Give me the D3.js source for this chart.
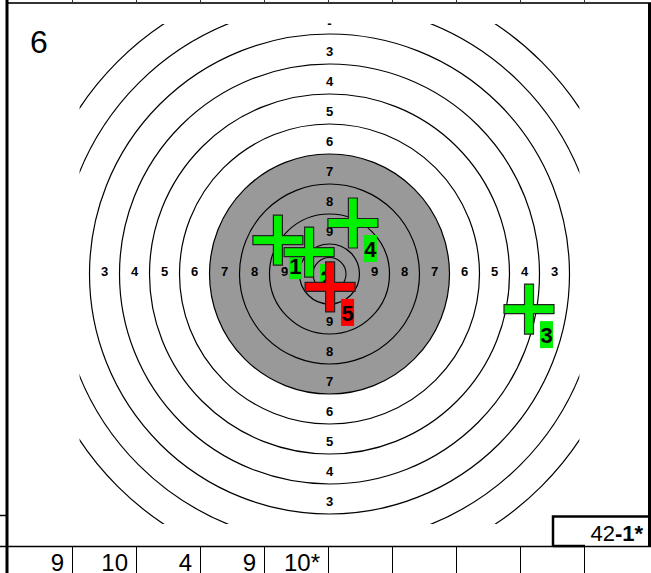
<!DOCTYPE html>
<html><head><meta charset="utf-8">
<script src="https://cdn.jsdelivr.net/npm/d3@7"></script>
<style>html,body{margin:0;padding:0;background:#fff;}svg{display:block;}</style>
</head><body>
<svg id="c" width="651" height="573"></svg>
<script>
// ---- data ----
const ringValues = [10, 9, 8, 7, 6, 5, 4, 3, 2, 1];
const ringLabelValues = [9, 8, 7, 6, 5, 4, 3];
const blackRingLimit = 7;          // rings 7..10 on grey disc
const innerTenRadius = 0.55;       // inner ten, in ring widths
const viewHalf = 8.33;             // visible square half-size, in ring widths
const shotNumbers = [1, 2, 3, 4, 5];
const shotX = [-1.72, -0.68, 6.65, 0.78, 0.02];   // ring widths, right +
const shotY = [1.13, 0.73, -1.17, 1.70, -0.43];   // ring widths, up +
const shotScores = ["9", "10", "4", "9", "10*"];
const seriesTotal = "6";
const resultText = ["42", "-1*"];
const cellCount = 10;

// ---- drawing ----
const svg = d3.select("#c");
const cx = 329.5, cy = 274, unit = 30;
const x = d3.scaleLinear().domain([-11, 11]).range([cx - 11 * unit, cx + 11 * unit]);
const y = d3.scaleLinear().domain([-11, 11]).range([cy + 11 * unit, cy - 11 * unit]);
const rOf = v => (11 - v) * unit;   // outer radius of ring v

const cellScale = d3.scaleLinear().domain([0, cellCount]).range([8, 648]);

const tg = svg.append("g");
svg.append("defs").append("clipPath").attr("id", "clip")
  .append("rect").attr("x", x(-viewHalf)).attr("y", y(viewHalf))
  .attr("width", x(viewHalf) - x(-viewHalf)).attr("height", y(-viewHalf) - y(viewHalf));
const clipG = tg.append("g").attr("clip-path", "url(#clip)");

// grey disc
clipG.append("circle").attr("cx", cx).attr("cy", cy).attr("r", rOf(blackRingLimit)).attr("fill", "#999999");

// rings
clipG.selectAll("circle.ring").data(ringValues).join("circle")
  .attr("class", "ring").attr("cx", cx).attr("cy", cy).attr("r", d => rOf(d))
  .attr("fill", "none").attr("stroke", "#000").attr("stroke-width", 1.2);
clipG.append("circle").attr("cx", cx).attr("cy", cy).attr("r", innerTenRadius * unit)
  .attr("fill", "none").attr("stroke", "#000").attr("stroke-width", 1.1);

// ring labels
const lblFont = "bold 13px 'Liberation Sans', Arial, sans-serif";
ringLabelValues.forEach(v => {
  const m = rOf(v) - unit / 2;
  [[cx - m, cy - 3], [cx + m, cy - 3], [cx, cy - m + 2], [cx, cy + m + 2]].forEach(p => {
    tg.append("text").attr("x", p[0]).attr("y", p[1]).attr("text-anchor", "middle")
      .attr("dominant-baseline", "central").style("font", lblFont).text(v);
  });
});
tg.append("text").attr("x", cx).attr("y", cy - (rOf(2) - unit / 2) + 4).attr("text-anchor", "middle")
  .attr("dominant-baseline", "central").style("font", lblFont).text("-");

// shots
const arm = 25, th = 4.5;
const crossPath = `M${-th},${-arm}H${th}V${-th}H${arm}V${th}H${th}V${arm}H${-th}V${th}H${-arm}V${-th}H${-th}Z`;
shotNumbers.forEach((n, i) => {
  const col = i === shotNumbers.length - 1 ? "#ff0000" : "#00f000";
  const g = tg.append("g").attr("transform", `translate(${x(shotX[i])},${y(shotY[i])})`);
  g.append("path").attr("d", crossPath).attr("fill", col).attr("stroke", "#222").attr("stroke-width", 1.2);
  g.append("rect").attr("x", 11).attr("y", 12).attr("width", 13).attr("height", 27).attr("fill", col);
  g.append("text").attr("x", 17.5).attr("y", 34).attr("text-anchor", "middle")
    .style("font", "bold 22px 'Liberation Sans Narrow', 'Liberation Sans', Arial, sans-serif").attr("fill", "#000").text(n);
});

// frame
const fr = svg.append("g");
fr.append("line").attr("x1", 7).attr("x2", 651).attr("y1", 3).attr("y2", 3).attr("stroke", "#333").attr("stroke-width", 2);
fr.append("line").attr("x1", 7).attr("x2", 7).attr("y1", 0).attr("y2", 573).attr("stroke", "#000").attr("stroke-width", 3);
fr.append("line").attr("x1", 649.5).attr("x2", 649.5).attr("y1", 3).attr("y2", 547).attr("stroke", "#000").attr("stroke-width", 3);
fr.append("line").attr("x1", 0).attr("x2", 651).attr("y1", 546.5).attr("y2", 546.5).attr("stroke", "#000").attr("stroke-width", 1.5);
fr.append("line").attr("x1", 0).attr("x2", 7).attr("y1", 515.5).attr("y2", 515.5).attr("stroke", "#000").attr("stroke-width", 1.5);
d3.range(1, cellCount).forEach(k => {
  const xx = Math.round(cellScale(k)) + 0.5;
  fr.append("line").attr("x1", xx).attr("x2", xx).attr("y1", 0).attr("y2", 3).attr("stroke", "#333").attr("stroke-width", 1);
  fr.append("line").attr("x1", xx).attr("x2", xx).attr("y1", 546).attr("y2", 573).attr("stroke", "#000").attr("stroke-width", 1);
});
const narrow = "'Liberation Sans Narrow', 'Liberation Sans', Arial, sans-serif";
shotScores.forEach((s, k) => {
  fr.append("text").attr("x", cellScale(k + 1) - 8).attr("y", 571).attr("text-anchor", "end")
    .style("font", `24px ${narrow}`).text(s);
});
fr.append("text").attr("x", 30).attr("y", 53).style("font", `32px ${narrow}`).text(seriesTotal);
// result box
fr.append("path").attr("d", "M553,546V516.5H651").attr("fill", "none").attr("stroke", "#000").attr("stroke-width", 2.5);
fr.append("line").attr("x1", 553).attr("x2", 585).attr("y1", 546).attr("y2", 546).attr("stroke", "#000").attr("stroke-width", 2.5);
const rt = fr.append("text").attr("x", 643).attr("y", 541).attr("text-anchor", "end").style("font", `22px ${narrow}`);
rt.append("tspan").text(resultText[0]);
rt.append("tspan").style("font-weight", "bold").text(resultText[1]);
</script>
</body></html>
